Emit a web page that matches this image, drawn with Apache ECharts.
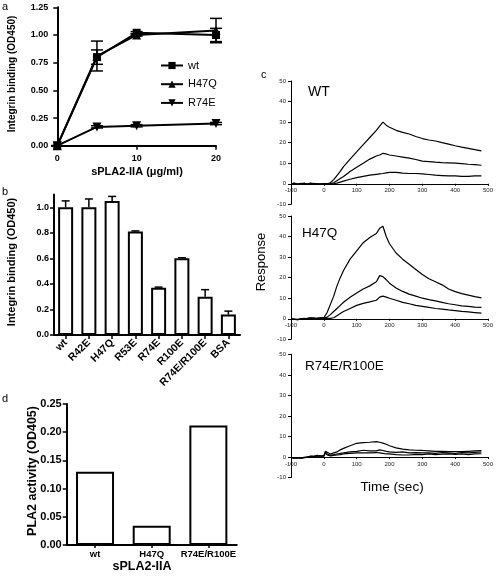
<!DOCTYPE html>
<html><head><meta charset="utf-8">
<script src="https://cdn.jsdelivr.net/npm/echarts@6/dist/echarts.min.js"></script>
<style>html,body{margin:0;padding:0;background:#fff}#c{width:500px;height:579px}</style>
</head><body><div id="c"></div>
<script>
// ---- Panel a data ----
const aDose = [0, 5, 10, 20];
const aWt = [0, 0.80, 1.02, 1.00];
const aWtErr = [0, 0.065, 0.01, 0.06];
const aH47Q = [0, 0.81, 1.00, 1.04];
const aH47QErr = [0, 0.135, 0.01, 0.11];
const aR74E = [0, 0.17, 0.18, 0.20];
const aR74EErr = [0, 0.01, 0.01, 0.01];
const aXTicks = [0, 10, 20];
// ---- Panel b data ----
const bCats = ['wt', 'R42E', 'H47Q', 'R53E', 'R74E', 'R100E', 'R74E/R100E', 'BSA'];
const bVals = [1.00, 1.00, 1.05, 0.81, 0.37, 0.60, 0.30, 0.16];
const bErr = [0.05, 0.065, 0.035, 0.005, 0.005, 0.005, 0.055, 0.027];
const bYTicks = [0, 0.2, 0.4, 0.6, 0.8, 1.0];
// ---- Panel d data ----
const dCats = ['wt', 'H47Q', 'R74E/R100E'];
const dVals = [0.130, 0.034, 0.212];
// ---- Panel c data (time in sec, response) ----
const cTime = [-100,-90,-80,-70,-60,-50,-40,-30,-20,-10,0,5,10,20,30,40,50,60,80,100,120,140,160,170,180,190,200,220,240,260,280,300,320,340,360,380,400,420,440,460,480];
const wtHigh = [0,0.3,-0.2,0.2,0,-0.3,0.2,-0.2,0,-0.3, 0,0,0,0.5,2,4,6,8.3, 12,15.5,19,22.5,26, 28,30,28.5,27.5, 26,25,24.2,23,22,21.3,20.8,20,19.3,18.5,17.8,17.2,16.6,16];
const wtMid = [0,0.2,-0.2,0.1,0,-0.2,0.3,-0.1,0,-0.2, 0,0,0,0,0.5,1.5,2.5,3.5, 6,8,10,12,13.5, 14,14.8,14.5,14, 13.5,13,12.5,11.8,11,10.8,10.5,10.3,10.2,10,9.8,9.5,9.3,9];
const wtLow = [0.2,0,-0.3,0,0.3,-0.2,0,0.2,-0.3,0, 0,0,0,0,0,0.3,0.8,1.3, 2.2,3,3.6,4.2,4.6, 4.8,5,5.3,5.5, 5.5,5.2,5,5,4.8,4.5,4.2,4,3.8,3.8,3.6,3.6,3.8,3.8];
const hqHigh = [0,-0.3,-0.5,-0.2,0,0.2,0.5,0.2,0.3,0.5, 0.5,1,3,7,11,16,20,23.5, 29,33,37,39.5,41.5, 44,45,40,36.5, 32,29,26.5,24,21.5,19.5,18,16.5,14.5,13.2,12.2,11.5,10.8,10.2];
const hqMid = [0,-0.3,-0.3,0,0.2,0,0.3,0,0.2,0.3, 0.3,0.5,0.8,2,3.5,5,6.5,8, 10.5,12.5,14.5,16,18, 21,20.5,19,17.3, 15,13.3,12,11,10,9.3,8.7,8,7.3,6.8,6.3,6,5.7,5.5];
const hqLow = [0,-0.2,-0.4,-0.2,0,0.2,0.2,0.5,0,0.2, 0.2,0.2,0.2,0.2,0.5,1.5,2.5,3.5, 5,6.5,7.5,8.2,9, 10.5,11,10.5,10, 9,8,7.3,6.5,6,5.5,5,4.7,4.3,4,3.6,3.3,3,2.7];
const rrHigh = [-0.3,-0.5,-0.3,-0.5,-0.3,0,0.5,0.3,0.8,0.5, 0.5,2.8,2,1.5,2,2.5,3.5,4.2, 5.5,6.7,7,7.2,7.5, 7.2,6.8,6.2,5.5, 4.5,3.9,3.5,3.3,3.2,3,2.8,2.8,2.7,2.7,2.6,2.8,3,3.2];
const rrMid = [-0.3,-0.4,-0.3,-0.5,-0.2,0,0.3,0.2,0.6,0.4, 0.4,2.5,1.5,1,1.2,1.5,1.8,2, 2.5,2.8,3.3,3,3, 3.5,3.2,2.8,2.5, 2.3,2.5,2,2.2,2,2,1.8,2.2,2,1.8,2.2,2,2.3,2.5];
const rrLow = [-0.2,-0.4,-0.4,-0.3,-0.3,0,0.2,0.4,0.5,0.6, 0.6,2,1,0.6,0.8,1,1.2,1.5, 1.8,2,2,2,2.2, 2,1.8,1.5,1.5, 1.2,1,1,1.3,1.2,1.5,1.2,1.4,1.5,1.3,1.5,1.2,1.5,1.6];

const FF = 'Liberation Sans, Arial, sans-serif';
const zip = (xs, ys) => xs.map((x, i) => [x, ys[i]]);
const C_H = 123.3;

function errRender(capHalf, both) {
  return function (params, api) {
    const x = api.value(0), lo = api.value(1), hi = api.value(2);
    const p1 = api.coord([x, lo]), p2 = api.coord([x, hi]);
    const st = { stroke: '#000', lineWidth: 1.5 };
    const ch = [
      { type: 'line', shape: { x1: p1[0], y1: p1[1], x2: p2[0], y2: p2[1] }, style: st },
      { type: 'line', shape: { x1: p2[0] - capHalf, y1: p2[1], x2: p2[0] + capHalf, y2: p2[1] }, style: st }
    ];
    if (both) ch.push({ type: 'line', shape: { x1: p1[0] - capHalf, y1: p1[1], x2: p1[0] + capHalf, y2: p1[1] }, style: st });
    return { type: 'group', children: ch };
  };
}

const blackAxis = (w) => ({ show: true, lineStyle: { color: '#000', width: w } });
const boldLbl = (sz, extra) => Object.assign({ color: '#000', fontFamily: FF, fontWeight: 'bold', fontSize: sz }, extra || {});

function cX(idx) {
  return { type: 'value', gridIndex: idx, min: -100, max: 500, interval: 100,
    position: 'bottom', offset: -C_H * 10 / 60,
    axisLine: { show: true, onZero: false, lineStyle: { color: '#000', width: 1 } },
    axisTick: { show: true, length: 2, lineStyle: { color: '#000' } },
    axisLabel: { fontSize: 6, color: '#222', fontFamily: FF, margin: 4, hideOverlap: false },
    splitLine: { show: false } };
}
function cY(idx) {
  return { type: 'value', gridIndex: idx, min: -10, max: 50, interval: 10,
    axisLine: { show: true, onZero: false, lineStyle: { color: '#000', width: 1 } },
    axisTick: { show: true, length: 3, lineStyle: { color: '#000' } },
    axisLabel: { fontSize: 6, color: '#222', fontFamily: FF, margin: 5, hideOverlap: false },
    splitLine: { show: false } };
}
function cLine(idx, ys) {
  return { type: 'line', xAxisIndex: idx, yAxisIndex: idx, data: zip(cTime, ys), showSymbol: false,
    lineStyle: { color: '#000', width: 1.2 }, itemStyle: { color: '#000' }, silent: true };
}

const gridBase = { outerBoundsMode: 'none', containLabel: false };
const option = {
  animation: false,
  backgroundColor: '#fff',
  grid: [
    Object.assign({ left: 53.3, top: 7.3, width: 162.7, height: 138.4 }, gridBase),
    Object.assign({ left: 54, top: 194.5, width: 186, height: 140.5 }, gridBase),
    Object.assign({ left: 66.7, top: 404, width: 170, height: 141 }, gridBase),
    Object.assign({ left: 291, top: 81, width: 197, height: C_H }, gridBase),
    Object.assign({ left: 291, top: 216, width: 197, height: C_H }, gridBase),
    Object.assign({ left: 291, top: 354.3, width: 197, height: C_H }, gridBase)
  ],
  xAxis: [
    { type: 'value', gridIndex: 0, min: -0.5, max: 20,
      axisLine: blackAxis(2), splitLine: { show: false },
      axisTick: { show: true, length: 4, customValues: aXTicks, lineStyle: { color: '#000', width: 1.5 } },
      axisLabel: boldLbl(9, { margin: 8, customValues: aXTicks }) },
    { type: 'category', gridIndex: 1, data: bCats,
      axisLine: blackAxis(2),
      axisTick: { show: true, alignWithLabel: true, length: 4, lineStyle: { color: '#000', width: 1.5 } },
      axisLabel: boldLbl(10.5, { rotate: 45, margin: 6, interval: 0 }) },
    { type: 'category', gridIndex: 2, data: dCats,
      axisLine: blackAxis(2),
      axisTick: { show: true, alignWithLabel: true, length: 3, lineStyle: { color: '#000', width: 1.5 } },
      axisLabel: boldLbl(9.5, { margin: 4, interval: 0 }) },
    cX(3), cX(4), cX(5)
  ],
  yAxis: [
    { type: 'value', gridIndex: 0, min: 0, max: 1.25, interval: 0.25,
      axisLine: blackAxis(2), splitLine: { show: false },
      axisTick: { show: true, length: 4, lineStyle: { color: '#000', width: 1.5 } },
      axisLabel: boldLbl(9, { margin: 5, formatter: v => v.toFixed(2) }) },
    { type: 'value', gridIndex: 1, min: 0, max: 1.1,
      axisLine: blackAxis(2), splitLine: { show: false },
      axisTick: { show: true, length: 4, customValues: bYTicks, lineStyle: { color: '#000', width: 1.5 } },
      axisLabel: boldLbl(9, { margin: 5, customValues: bYTicks, formatter: v => v.toFixed(1) }) },
    { type: 'value', gridIndex: 2, min: 0, max: 0.25, interval: 0.05,
      axisLine: blackAxis(2), splitLine: { show: false },
      axisTick: { show: true, length: 4, lineStyle: { color: '#000', width: 1.5 } },
      axisLabel: boldLbl(11, { margin: 5, formatter: v => v.toFixed(2) }) },
    cY(3), cY(4), cY(5)
  ],
  legend: {
    show: true, orient: 'vertical', left: 155, top: 55,
    itemWidth: 22, itemHeight: 9, itemGap: 7.7,
    data: ['wt', 'H47Q', 'R74E'],
    textStyle: { color: '#000', fontFamily: FF, fontSize: 11 }
  },
  series: [
    { name: 'R74E', type: 'line', xAxisIndex: 0, yAxisIndex: 0, data: zip(aDose, aR74E),
      symbol: 'triangle', symbolRotate: 180, symbolSize: 9, lineStyle: { color: '#000', width: 2 }, itemStyle: { color: '#000' } },
    { name: 'H47Q', type: 'line', xAxisIndex: 0, yAxisIndex: 0, data: zip(aDose, aH47Q),
      symbol: 'triangle', symbolSize: 9, lineStyle: { color: '#000', width: 2 }, itemStyle: { color: '#000' } },
    { name: 'wt', type: 'line', xAxisIndex: 0, yAxisIndex: 0, data: zip(aDose, aWt),
      symbol: 'rect', symbolSize: 8, lineStyle: { color: '#000', width: 2 }, itemStyle: { color: '#000' } },
    { type: 'custom', xAxisIndex: 0, yAxisIndex: 0, renderItem: errRender(6, true), z: 5,
      data: aDose.map((x, i) => [x, aWt[i] - aWtErr[i], aWt[i] + aWtErr[i]]).concat(
            aDose.map((x, i) => [x, aH47Q[i] - aH47QErr[i], aH47Q[i] + aH47QErr[i]])).concat(
            aDose.map((x, i) => [x, aR74E[i] - aR74EErr[i], aR74E[i] + aR74EErr[i]])) },
    { type: 'bar', xAxisIndex: 1, yAxisIndex: 1, data: bVals, barWidth: 15,
      itemStyle: { color: '#fff', borderColor: '#000', borderWidth: 2 } },
    { type: 'custom', xAxisIndex: 1, yAxisIndex: 1, renderItem: errRender(4, false), z: 5,
      data: bVals.map((v, i) => [i, v, v + bErr[i]]) },
    { type: 'bar', xAxisIndex: 2, yAxisIndex: 2, data: dVals, barWidth: 38,
      itemStyle: { color: '#fff', borderColor: '#000', borderWidth: 2 } },
    cLine(3, wtHigh), cLine(3, wtMid), cLine(3, wtLow),
    cLine(4, hqHigh), cLine(4, hqMid), cLine(4, hqLow),
    cLine(5, rrHigh), cLine(5, rrMid), cLine(5, rrLow)
  ],
  graphic: [
    { type: 'text', left: 2, top: 1, style: { text: 'a', font: '11px ' + FF, fill: '#000' } },
    { type: 'text', left: 2, top: 186, style: { text: 'b', font: '11px ' + FF, fill: '#000' } },
    { type: 'text', left: 261, top: 69, style: { text: 'c', font: '11px ' + FF, fill: '#000' } },
    { type: 'text', left: 2, top: 393, style: { text: 'd', font: '11px ' + FF, fill: '#000' } },
    { type: 'text', x: 12, y: 74, rotation: Math.PI / 2,
      style: { text: 'Integrin binding (OD450)', font: 'bold 10px ' + FF, fill: '#000', align: 'center', verticalAlign: 'middle' } },
    { type: 'text', x: 137, y: 172,
      style: { text: 'sPLA2-IIA (\u03bcg/ml)', font: 'bold 11px ' + FF, fill: '#000', align: 'center', verticalAlign: 'middle' } },
    { type: 'text', x: 12, y: 262, rotation: Math.PI / 2,
      style: { text: 'Integrin binding (OD450)', font: 'bold 11px ' + FF, fill: '#000', align: 'center', verticalAlign: 'middle' } },
    { type: 'text', x: 33, y: 471, rotation: Math.PI / 2,
      style: { text: 'PLA2 activity (OD405)', font: 'bold 12.5px ' + FF, fill: '#000', align: 'center', verticalAlign: 'middle' } },
    { type: 'text', x: 142, y: 567,
      style: { text: 'sPLA2-IIA', font: 'bold 12.5px ' + FF, fill: '#000', align: 'center', verticalAlign: 'middle' } },
    { type: 'text', x: 308, y: 92,
      style: { text: 'WT', font: '14px ' + FF, fill: '#000', align: 'left', verticalAlign: 'middle' } },
    { type: 'text', x: 302, y: 233,
      style: { text: 'H47Q', font: '13.5px ' + FF, fill: '#000', align: 'left', verticalAlign: 'middle' } },
    { type: 'text', x: 305, y: 366,
      style: { text: 'R74E/R100E', font: '13.5px ' + FF, fill: '#000', align: 'left', verticalAlign: 'middle' } },
    { type: 'text', x: 261, y: 262, rotation: Math.PI / 2,
      style: { text: 'Response', font: '13px ' + FF, fill: '#000', align: 'center', verticalAlign: 'middle' } },
    { type: 'text', x: 392, y: 487,
      style: { text: 'Time (sec)', font: '13.5px ' + FF, fill: '#000', align: 'center', verticalAlign: 'middle' } }
  ]
};
const chart = echarts.init(document.getElementById('c'), null, { renderer: 'canvas', width: 500, height: 579 });
chart.setOption(option);
</script></body></html>
